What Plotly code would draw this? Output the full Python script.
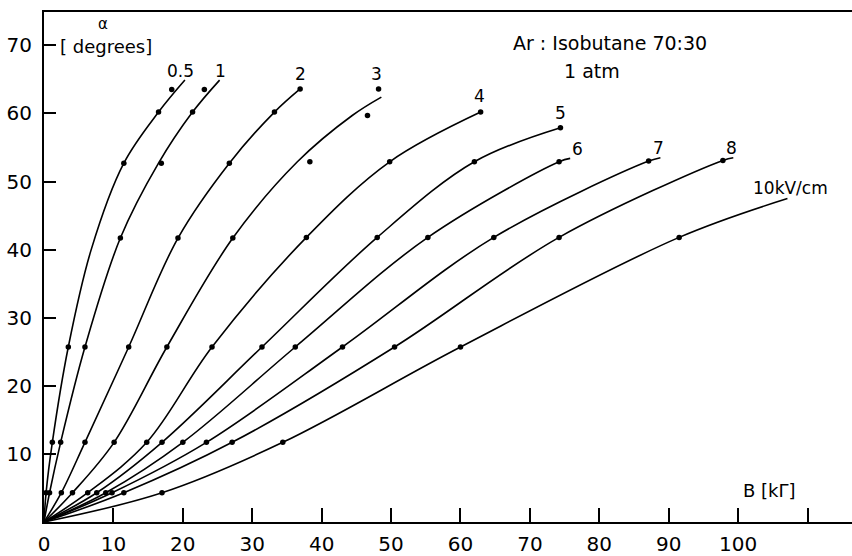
import plotly.graph_objects as go

# Field labels (kV/cm) and where each label sits
field_labels = ["0.5", "1", "2", "3", "4", "5", "6", "7", "8", "10kV/cm"]
label_B = [19.7, 25.4, 37.0, 47.9, 62.8, 74.4, 76.9, 88.5, 99.1, 107.6]
label_A = [66.3, 66.3, 65.8, 65.8, 62.6, 60.0, 54.8, 54.9, 54.9, 49.1]

# Measured points (B [kG], alpha [deg])
pts_05 = [(0.3, 4.3), (1.2, 11.7), (3.5, 25.7), (11.5, 52.7), (16.5, 60.2), (18.4, 63.5)]
pts_1 = [(0.8, 4.3), (2.4, 11.7), (5.9, 25.7), (11.0, 41.7), (16.9, 52.7), (21.4, 60.2), (23.1, 63.5)]
pts_2 = [(2.5, 4.3), (5.9, 11.7), (12.2, 25.7), (19.3, 41.7), (26.7, 52.7), (33.2, 60.2), (36.9, 63.6)]
pts_3 = [(4.1, 4.3), (10.1, 11.7), (17.7, 25.7), (27.2, 41.7), (38.3, 52.9), (46.6, 59.7), (48.2, 63.6)]
pts_4 = [(6.3, 4.3), (14.8, 11.7), (24.2, 25.7), (37.8, 41.8), (49.8, 52.9), (62.9, 60.2)]
pts_5 = [(7.6, 4.3), (17.0, 11.7), (31.4, 25.7), (48.0, 41.8), (62.0, 52.9), (74.4, 57.9)]
pts_6 = [(8.9, 4.3), (20.0, 11.7), (36.2, 25.7), (55.3, 41.8), (74.2, 52.9)]
pts_7 = [(9.8, 4.3), (23.4, 11.7), (43.0, 25.7), (64.8, 41.8), (87.1, 53.0)]
pts_8 = [(11.5, 4.3), (27.1, 11.7), (50.5, 25.7), (74.2, 41.8), (97.8, 53.1)]
pts_10 = [(17.0, 4.3), (34.4, 11.7), (60.0, 25.7), (91.5, 41.8)]

# Drawn curves
path_05 = [(0, 0), (0.3, 4.3), (1.2, 11.7), (3.5, 25.7), (6.8, 40.0), (11.5, 52.7), (16.5, 60.2), (20.3, 64.9)]
path_1 = [(0, 0), (0.8, 4.3), (2.4, 11.7), (5.9, 25.7), (11.0, 41.7), (16.5, 52.7), (21.4, 60.2), (25.3, 64.9)]
path_2 = [(0, 0), (2.5, 4.3), (5.9, 11.7), (12.2, 25.7), (19.3, 41.7), (26.7, 52.7), (33.2, 60.2), (36.9, 63.6)]
path_3 = [(0, 0), (4.1, 4.3), (10.1, 11.7), (17.7, 25.7), (27.2, 41.7), (36.5, 52.9), (44.4, 59.7), (48.6, 62.4)]
path_4 = [(0, 0), (6.3, 4.3), (14.8, 11.7), (24.2, 25.7), (37.8, 41.8), (49.8, 52.9), (62.9, 60.2)]
path_5 = [(0, 0), (7.6, 4.3), (17.0, 11.7), (31.4, 25.7), (48.0, 41.8), (62.0, 52.9), (74.4, 57.9)]
path_6 = [(0, 0), (8.9, 4.3), (20.0, 11.7), (36.2, 25.7), (55.3, 41.8), (74.2, 52.9), (75.8, 53.4)]
path_7 = [(0, 0), (9.8, 4.3), (23.4, 11.7), (43.0, 25.7), (64.8, 41.8), (87.1, 53.0), (88.8, 53.5)]
path_8 = [(0, 0), (11.5, 4.3), (27.1, 11.7), (50.5, 25.7), (74.2, 41.8), (97.8, 53.1), (99.3, 53.5)]
path_10 = [(0, 0), (17.0, 4.3), (34.4, 11.7), (60.0, 25.7), (91.5, 41.8), (107.1, 47.5)]

x_ticks = [0, 10, 20, 30, 40, 50, 60, 70, 80, 90, 100, 110]
x_ticktext = ["0", "10", "20", "30", "40", "50", "60", "70", "80", "90", "100", ""]
y_ticks = [10, 20, 30, 40, 50, 60, 70]

paths = [path_05, path_1, path_2, path_3, path_4, path_5, path_6, path_7, path_8, path_10]
points = [pts_05, pts_1, pts_2, pts_3, pts_4, pts_5, pts_6, pts_7, pts_8, pts_10]

FONT = "DejaVu Sans"
fig = go.Figure()
for path in paths:
    fig.add_trace(go.Scatter(
        x=[p[0] for p in path], y=[p[1] for p in path], mode="lines",
        line=dict(color="black", width=1.6, shape="spline", smoothing=1.0),
        hoverinfo="skip", showlegend=False))
for pts in points:
    fig.add_trace(go.Scatter(
        x=[p[0] for p in pts], y=[p[1] for p in pts], mode="markers",
        marker=dict(color="black", size=5.5), showlegend=False))

for t, bx, ay in zip(field_labels, label_B, label_A):
    fig.add_annotation(x=bx, y=ay, text=t, showarrow=False,
                       font=dict(family=FONT, size=17, color="black"))

fig.add_annotation(x=81.6, y=70.4, text="Ar : Isobutane 70:30", showarrow=False,
                   font=dict(family=FONT, size=19, color="black"))
fig.add_annotation(x=79.0, y=66.2, text="1 atm", showarrow=False,
                   font=dict(family=FONT, size=19, color="black"))
fig.add_annotation(x=8.5, y=73.1, text="α", showarrow=False,
                   font=dict(family=FONT, size=15, color="black"))
fig.add_annotation(x=8.9, y=69.8, text="[ degrees]", showarrow=False,
                   font=dict(family=FONT, size=18, color="black"))
fig.add_annotation(x=104.5, y=4.6, text="B [kΓ]", showarrow=False,
                   font=dict(family=FONT, size=18, color="black"))

fig.update_layout(
    width=852, height=556,
    margin=dict(l=44, r=0, t=12, b=26),
    paper_bgcolor="white", plot_bgcolor="white",
    font=dict(family=FONT, size=20, color="black"),
    xaxis=dict(range=[0, 116.4], tickvals=x_ticks, ticktext=x_ticktext,
               ticks="inside", ticklen=14, tickwidth=1.6, tickcolor="black",
               showline=True, linecolor="black", linewidth=2, mirror=True,
               showgrid=False, zeroline=False, ticklabelstandoff=3),
    yaxis=dict(range=[0, 74.9], tickvals=y_ticks,
               ticks="inside", ticklen=12, tickwidth=1.6, tickcolor="black",
               showline=True, linecolor="black", linewidth=2, mirror=False,
               showgrid=False, zeroline=False, ticklabelstandoff=6),
)
fig.write_html("out.html")
